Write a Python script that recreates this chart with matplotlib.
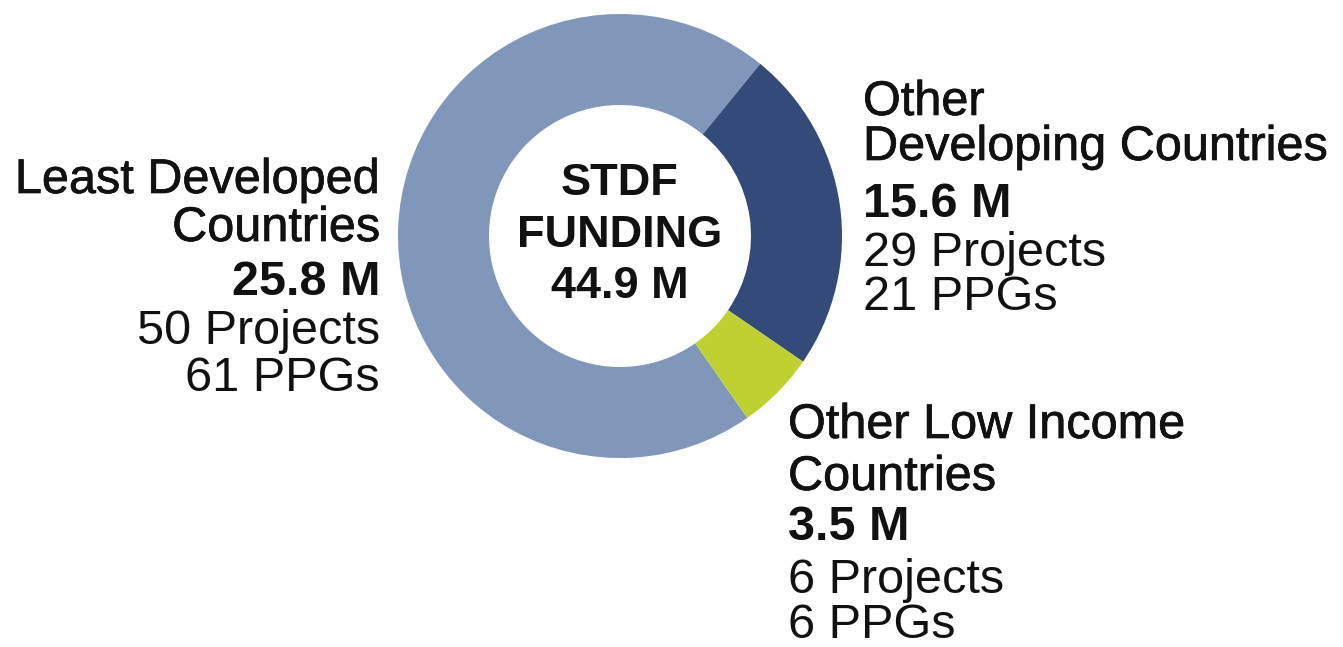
import matplotlib
matplotlib.use('Agg')
import matplotlib.pyplot as plt
import matplotlib.patheffects as pe

# data
regions = ['Least Developed Countries', 'Other Developing Countries', 'Other Low Income Countries']
funding = [25.8, 15.6, 3.5]
projects = [50, 29, 6]
ppgs = [61, 21, 6]
slice_share = [70.6, 23.7, 5.7]   # share of ring as drawn in the picture
total_funding = 44.9

colors = ['#8097ba', '#344a78', '#bfd131']

W, H = 1343, 647
plt.rcParams['font.family'] = ['Liberation Sans', 'DejaVu Sans']

fig = plt.figure(figsize=(W / 100, H / 100), dpi=100)
ax = fig.add_axes([0, 0, 1, 1])

cx, cy = 620, H - 236
R = 222
ax.pie(slice_share, colors=colors, startangle=-55, counterclock=False,
       center=(cx, cy), radius=R, wedgeprops=dict(width=R - 131, linewidth=0))
ax.set_xlim(0, W)
ax.set_ylim(0, H)
ax.set_aspect('equal')
ax.axis('off')

# headings in the original are a medium weight, fake it with a thin stroke
heavy = [pe.withStroke(linewidth=0.5, foreground='#111111')]


def block(x, ys, lines, ha):
    # lines: list of (text, weight, heading?)
    for y, (txt, w, head) in zip(ys, lines):
        t = ax.text(x, H - y, txt, ha=ha, va='baseline', fontsize=35,
                    fontweight=w, color='#111111')
        if head:
            t.set_path_effects(heavy)


# left block - LDC
block(380, [193, 241, 295, 344, 391],
      [('Least Developed', 'normal', True), ('Countries', 'normal', True),
       ('%.1f M' % funding[0], 'bold', False),
       ('%d Projects' % projects[0], 'normal', False), ('%d PPGs' % ppgs[0], 'normal', False)],
      'right')

# top right - other developing
block(863, [115, 160, 217, 266, 310],
      [('Other', 'normal', True), ('Developing Countries', 'normal', True),
       ('%.1f M' % funding[1], 'bold', False),
       ('%d Projects' % projects[1], 'normal', False), ('%d PPGs' % ppgs[1], 'normal', False)],
      'left')

# bottom right - other low income
block(788, [438, 490, 540, 593, 638],
      [('Other Low Income', 'normal', True), ('Countries', 'normal', True),
       ('%.1f M' % funding[2], 'bold', False),
       ('%d Projects' % projects[2], 'normal', False), ('%d PPGs' % ppgs[2], 'normal', False)],
      'left')

# centre label
for y, txt in zip([195, 247, 298], ['STDF', 'FUNDING', '%.1f M' % total_funding]):
    ax.text(cx, H - y, txt, ha='center', va='baseline', fontsize=32.5,
            fontweight='bold', color='#111111')

fig.savefig('out.png', dpi=100)
